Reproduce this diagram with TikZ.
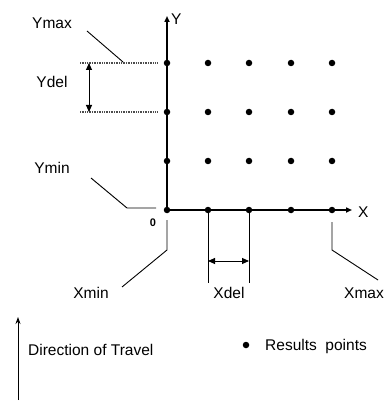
\documentclass[tikz,border=0pt]{standalone}
\usepackage{fontspec}
\setmainfont{Liberation Sans}
\usetikzlibrary{arrows.meta}
\begin{document}
\begin{tikzpicture}[x=1pt,y=-1pt,
  lbl/.style={font=\fontsize{15.5}{18}\selectfont, inner sep=0pt},
  dotpt/.style={fill=black, circle, inner sep=0pt, minimum size=6.5pt},
  axis/.style={line width=1.6pt, -{Triangle[length=6pt,width=5pt]}},
  lead/.style={line width=0.9pt},
  guide/.style={line width=1.8pt, black!70, dash pattern=on 1pt off 0.7pt},
  dim/.style={line width=0.9pt, {Triangle[length=7pt,width=6pt]}-{Triangle[length=7pt,width=6pt]}}]
\useasboundingbox (0,0) rectangle (385,403);
% axes
\coordinate (O) at (167,210);
\coordinate (Ytop) at (167,16);
\coordinate (Xend) at (352,210);
\draw[axis] (O) -- (Ytop);
\draw[axis] (O) -- (Xend);
\node[lbl, anchor=west] (Ylab) at (171,19) {Y};
\node[lbl, anchor=west] (Xlab) at (358,212) {X};
\node[font=\fontsize{11}{13}\selectfont\bfseries, inner sep=0pt] (zero) at (153,223) {0};
% grid points
\foreach \i/\x in {0/167,1/208,2/249,3/291,4/332}{
  \foreach \j/\y in {0/210,1/161,2/112,3/63}{
    \node[dotpt] (p\i\j) at (\x,\y) {};
  }
}
% Y guides
\coordinate (g1a) at (80,63); \coordinate (g1b) at (157,63);
\coordinate (g2a) at (80,112); \coordinate (g2b) at (157,112);
\draw[guide] (g1a) -- (g1b);
\draw[guide] (g2a) -- (g2b);
\coordinate (yd1) at (89,63); \coordinate (yd2) at (89,112);
\draw[dim] (yd1) -- (yd2);
\node[lbl] (ydel) at (52,82) {Ydel};
% Ymax
\node[lbl] (ymax) at (52,23) {Ymax};
\coordinate (ymx1) at (87,31); \coordinate (ymx2) at (123,62);
\draw[lead] (ymx1) -- (ymx2);
% Ymin
\node[lbl] (ymin) at (52,168) {Ymin};
\coordinate (ymn1) at (91,178); \coordinate (ymn2) at (127,208); \coordinate (ymn3) at (156,208);
\draw[lead] (ymn1) -- (ymn2) -- (ymn3);
% Xmin
\coordinate (xmn1) at (167,220); \coordinate (xmn2) at (167,250); \coordinate (xmn3) at (122,287);
\draw[lead] (xmn1) -- (xmn2) -- (xmn3);
\node[lbl] (xmin) at (91,293) {Xmin};
% Xdel
\coordinate (xd1t) at (208,210); \coordinate (xd1b) at (208,283);
\coordinate (xd2t) at (249,210); \coordinate (xd2b) at (249,283);
\draw[lead] (xd1t) -- (xd1b);
\draw[lead] (xd2t) -- (xd2b);
\coordinate (xda) at (208,261); \coordinate (xdb) at (249,261);
\draw[dim] (xda) -- (xdb);
\node[lbl] (xdel) at (229,293) {Xdel};
% Xmax
\coordinate (xmx1) at (332,222); \coordinate (xmx2) at (332,250); \coordinate (xmx3) at (378,280);
\draw[lead] (xmx1) -- (xmx2) -- (xmx3);
\node[lbl, anchor=east] (xmax) at (384,293) {Xmax};
% legend
\coordinate (dt1) at (18,400); \coordinate (dt2) at (18,317);
\draw[line width=0.9pt, -{Stealth[length=7pt,width=5pt]}] (dt1) -- (dt2);
\node[lbl, anchor=west] (dir) at (28,350) {Direction of Travel};
\node[dotpt] (leg) at (246,345) {};
\node[lbl, anchor=west] (res) at (265,346) {Results\ \ points};
\end{tikzpicture}
\end{document}
